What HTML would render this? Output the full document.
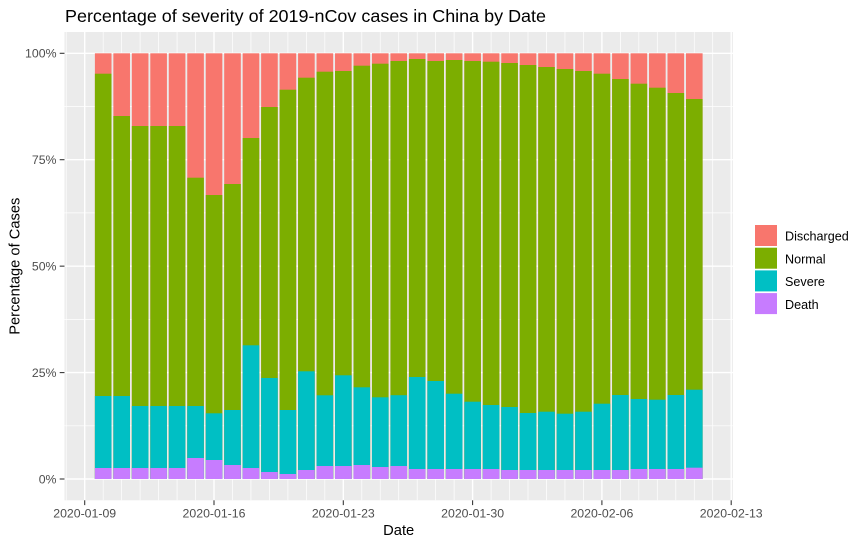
<!DOCTYPE html>
<html><head><meta charset="utf-8"><style>
html,body{margin:0;padding:0;background:#fff;}
svg{display:block;font-family:"Liberation Sans",Arial,sans-serif;}
</style></head><body>
<svg width="864" height="545" viewBox="0 0 864 545" xmlns="http://www.w3.org/2000/svg">
<rect x="0" y="0" width="864" height="545" fill="#fff"/>
<rect x="64.5" y="32" width="668.4" height="468.3" fill="#EBEBEB"/>
<g stroke="#fff" stroke-width="0.7">
<line x1="64.5" x2="732.9" y1="425.8" y2="425.8"/><line x1="64.5" x2="732.9" y1="319.4" y2="319.4"/><line x1="64.5" x2="732.9" y1="212.9" y2="212.9"/><line x1="64.5" x2="732.9" y1="106.5" y2="106.5"/>
<line x1="66.23" x2="66.23" y1="32" y2="500.3"/><line x1="103.17" x2="103.17" y1="32" y2="500.3"/><line x1="121.64" x2="121.64" y1="32" y2="500.3"/><line x1="140.11" x2="140.11" y1="32" y2="500.3"/><line x1="158.59" x2="158.59" y1="32" y2="500.3"/><line x1="177.06" x2="177.06" y1="32" y2="500.3"/><line x1="195.53" x2="195.53" y1="32" y2="500.3"/><line x1="232.47" x2="232.47" y1="32" y2="500.3"/><line x1="250.94" x2="250.94" y1="32" y2="500.3"/><line x1="269.41" x2="269.41" y1="32" y2="500.3"/><line x1="287.89" x2="287.89" y1="32" y2="500.3"/><line x1="306.36" x2="306.36" y1="32" y2="500.3"/><line x1="324.83" x2="324.83" y1="32" y2="500.3"/><line x1="361.77" x2="361.77" y1="32" y2="500.3"/><line x1="380.24" x2="380.24" y1="32" y2="500.3"/><line x1="398.71" x2="398.71" y1="32" y2="500.3"/><line x1="417.19" x2="417.19" y1="32" y2="500.3"/><line x1="435.66" x2="435.66" y1="32" y2="500.3"/><line x1="454.13" x2="454.13" y1="32" y2="500.3"/><line x1="491.07" x2="491.07" y1="32" y2="500.3"/><line x1="509.54" x2="509.54" y1="32" y2="500.3"/><line x1="528.01" x2="528.01" y1="32" y2="500.3"/><line x1="546.49" x2="546.49" y1="32" y2="500.3"/><line x1="564.96" x2="564.96" y1="32" y2="500.3"/><line x1="583.43" x2="583.43" y1="32" y2="500.3"/><line x1="620.37" x2="620.37" y1="32" y2="500.3"/><line x1="638.84" x2="638.84" y1="32" y2="500.3"/><line x1="657.31" x2="657.31" y1="32" y2="500.3"/><line x1="675.79" x2="675.79" y1="32" y2="500.3"/><line x1="694.26" x2="694.26" y1="32" y2="500.3"/><line x1="712.73" x2="712.73" y1="32" y2="500.3"/>
</g>
<g stroke="#fff" stroke-width="1.4">
<line x1="64.5" x2="732.9" y1="479" y2="479"/><line x1="64.5" x2="732.9" y1="372.6" y2="372.6"/><line x1="64.5" x2="732.9" y1="266.15" y2="266.15"/><line x1="64.5" x2="732.9" y1="159.7" y2="159.7"/><line x1="64.5" x2="732.9" y1="53.3" y2="53.3"/>
<line x1="84.7" x2="84.7" y1="32" y2="500.3"/><line x1="214" x2="214" y1="32" y2="500.3"/><line x1="343.3" x2="343.3" y1="32" y2="500.3"/><line x1="472.6" x2="472.6" y1="32" y2="500.3"/><line x1="601.9" x2="601.9" y1="32" y2="500.3"/><line x1="731.2" x2="731.2" y1="32" y2="500.3"/>
</g>
<g>
<g transform="translate(94.89,0)"><rect y="53.3" width="16.62" height="425.7" fill="#F8766D"/><rect y="73.7" width="16.62" height="405.3" fill="#7CAE00"/><rect y="396" width="16.62" height="83" fill="#00BFC4"/><rect y="468" width="16.62" height="11" fill="#C77CFF"/></g>
<g transform="translate(113.36,0)"><rect y="53.3" width="16.62" height="425.7" fill="#F8766D"/><rect y="116" width="16.62" height="363" fill="#7CAE00"/><rect y="396" width="16.62" height="83" fill="#00BFC4"/><rect y="468" width="16.62" height="11" fill="#C77CFF"/></g>
<g transform="translate(131.83,0)"><rect y="53.3" width="16.62" height="425.7" fill="#F8766D"/><rect y="126" width="16.62" height="353" fill="#7CAE00"/><rect y="406" width="16.62" height="73" fill="#00BFC4"/><rect y="468" width="16.62" height="11" fill="#C77CFF"/></g>
<g transform="translate(150.30,0)"><rect y="53.3" width="16.62" height="425.7" fill="#F8766D"/><rect y="126" width="16.62" height="353" fill="#7CAE00"/><rect y="406" width="16.62" height="73" fill="#00BFC4"/><rect y="468" width="16.62" height="11" fill="#C77CFF"/></g>
<g transform="translate(168.78,0)"><rect y="53.3" width="16.62" height="425.7" fill="#F8766D"/><rect y="126" width="16.62" height="353" fill="#7CAE00"/><rect y="406" width="16.62" height="73" fill="#00BFC4"/><rect y="468" width="16.62" height="11" fill="#C77CFF"/></g>
<g transform="translate(187.25,0)"><rect y="53.3" width="16.62" height="425.7" fill="#F8766D"/><rect y="177.7" width="16.62" height="301.3" fill="#7CAE00"/><rect y="406" width="16.62" height="73" fill="#00BFC4"/><rect y="458" width="16.62" height="21" fill="#C77CFF"/></g>
<g transform="translate(205.72,0)"><rect y="53.3" width="16.62" height="425.7" fill="#F8766D"/><rect y="195" width="16.62" height="284" fill="#7CAE00"/><rect y="413.3" width="16.62" height="65.7" fill="#00BFC4"/><rect y="460" width="16.62" height="19" fill="#C77CFF"/></g>
<g transform="translate(224.19,0)"><rect y="53.3" width="16.62" height="425.7" fill="#F8766D"/><rect y="184" width="16.62" height="295" fill="#7CAE00"/><rect y="410" width="16.62" height="69" fill="#00BFC4"/><rect y="465" width="16.62" height="14" fill="#C77CFF"/></g>
<g transform="translate(242.66,0)"><rect y="53.3" width="16.62" height="425.7" fill="#F8766D"/><rect y="138" width="16.62" height="341" fill="#7CAE00"/><rect y="345.3" width="16.62" height="133.7" fill="#00BFC4"/><rect y="468" width="16.62" height="11" fill="#C77CFF"/></g>
<g transform="translate(261.13,0)"><rect y="53.3" width="16.62" height="425.7" fill="#F8766D"/><rect y="107" width="16.62" height="372" fill="#7CAE00"/><rect y="378" width="16.62" height="101" fill="#00BFC4"/><rect y="472" width="16.62" height="7" fill="#C77CFF"/></g>
<g transform="translate(279.60,0)"><rect y="53.3" width="16.62" height="425.7" fill="#F8766D"/><rect y="89.7" width="16.62" height="389.3" fill="#7CAE00"/><rect y="410" width="16.62" height="69" fill="#00BFC4"/><rect y="474" width="16.62" height="5" fill="#C77CFF"/></g>
<g transform="translate(298.08,0)"><rect y="53.3" width="16.62" height="425.7" fill="#F8766D"/><rect y="77.7" width="16.62" height="401.3" fill="#7CAE00"/><rect y="371.3" width="16.62" height="107.7" fill="#00BFC4"/><rect y="470" width="16.62" height="9" fill="#C77CFF"/></g>
<g transform="translate(316.55,0)"><rect y="53.3" width="16.62" height="425.7" fill="#F8766D"/><rect y="71.7" width="16.62" height="407.3" fill="#7CAE00"/><rect y="395.3" width="16.62" height="83.7" fill="#00BFC4"/><rect y="466" width="16.62" height="13" fill="#C77CFF"/></g>
<g transform="translate(335.02,0)"><rect y="53.3" width="16.62" height="425.7" fill="#F8766D"/><rect y="71" width="16.62" height="408" fill="#7CAE00"/><rect y="375.3" width="16.62" height="103.7" fill="#00BFC4"/><rect y="466" width="16.62" height="13" fill="#C77CFF"/></g>
<g transform="translate(353.49,0)"><rect y="53.3" width="16.62" height="425.7" fill="#F8766D"/><rect y="65.7" width="16.62" height="413.3" fill="#7CAE00"/><rect y="387.3" width="16.62" height="91.7" fill="#00BFC4"/><rect y="465" width="16.62" height="14" fill="#C77CFF"/></g>
<g transform="translate(371.96,0)"><rect y="53.3" width="16.62" height="425.7" fill="#F8766D"/><rect y="63.7" width="16.62" height="415.3" fill="#7CAE00"/><rect y="397.3" width="16.62" height="81.7" fill="#00BFC4"/><rect y="467" width="16.62" height="12" fill="#C77CFF"/></g>
<g transform="translate(390.43,0)"><rect y="53.3" width="16.62" height="425.7" fill="#F8766D"/><rect y="61" width="16.62" height="418" fill="#7CAE00"/><rect y="395.2" width="16.62" height="83.8" fill="#00BFC4"/><rect y="466" width="16.62" height="13" fill="#C77CFF"/></g>
<g transform="translate(408.90,0)"><rect y="53.3" width="16.62" height="425.7" fill="#F8766D"/><rect y="59" width="16.62" height="420" fill="#7CAE00"/><rect y="377" width="16.62" height="102" fill="#00BFC4"/><rect y="469" width="16.62" height="10" fill="#C77CFF"/></g>
<g transform="translate(427.38,0)"><rect y="53.3" width="16.62" height="425.7" fill="#F8766D"/><rect y="61" width="16.62" height="418" fill="#7CAE00"/><rect y="381" width="16.62" height="98" fill="#00BFC4"/><rect y="469" width="16.62" height="10" fill="#C77CFF"/></g>
<g transform="translate(445.85,0)"><rect y="53.3" width="16.62" height="425.7" fill="#F8766D"/><rect y="60" width="16.62" height="419" fill="#7CAE00"/><rect y="393.7" width="16.62" height="85.3" fill="#00BFC4"/><rect y="469" width="16.62" height="10" fill="#C77CFF"/></g>
<g transform="translate(464.32,0)"><rect y="53.3" width="16.62" height="425.7" fill="#F8766D"/><rect y="61" width="16.62" height="418" fill="#7CAE00"/><rect y="401.7" width="16.62" height="77.3" fill="#00BFC4"/><rect y="469" width="16.62" height="10" fill="#C77CFF"/></g>
<g transform="translate(482.79,0)"><rect y="53.3" width="16.62" height="425.7" fill="#F8766D"/><rect y="61.7" width="16.62" height="417.3" fill="#7CAE00"/><rect y="405" width="16.62" height="74" fill="#00BFC4"/><rect y="469" width="16.62" height="10" fill="#C77CFF"/></g>
<g transform="translate(501.26,0)"><rect y="53.3" width="16.62" height="425.7" fill="#F8766D"/><rect y="63" width="16.62" height="416" fill="#7CAE00"/><rect y="407" width="16.62" height="72" fill="#00BFC4"/><rect y="470" width="16.62" height="9" fill="#C77CFF"/></g>
<g transform="translate(519.73,0)"><rect y="53.3" width="16.62" height="425.7" fill="#F8766D"/><rect y="65" width="16.62" height="414" fill="#7CAE00"/><rect y="413" width="16.62" height="66" fill="#00BFC4"/><rect y="470" width="16.62" height="9" fill="#C77CFF"/></g>
<g transform="translate(538.20,0)"><rect y="53.3" width="16.62" height="425.7" fill="#F8766D"/><rect y="67" width="16.62" height="412" fill="#7CAE00"/><rect y="411.7" width="16.62" height="67.3" fill="#00BFC4"/><rect y="470" width="16.62" height="9" fill="#C77CFF"/></g>
<g transform="translate(556.68,0)"><rect y="53.3" width="16.62" height="425.7" fill="#F8766D"/><rect y="69" width="16.62" height="410" fill="#7CAE00"/><rect y="413.7" width="16.62" height="65.3" fill="#00BFC4"/><rect y="470" width="16.62" height="9" fill="#C77CFF"/></g>
<g transform="translate(575.15,0)"><rect y="53.3" width="16.62" height="425.7" fill="#F8766D"/><rect y="71" width="16.62" height="408" fill="#7CAE00"/><rect y="411.7" width="16.62" height="67.3" fill="#00BFC4"/><rect y="470" width="16.62" height="9" fill="#C77CFF"/></g>
<g transform="translate(593.62,0)"><rect y="53.3" width="16.62" height="425.7" fill="#F8766D"/><rect y="73.7" width="16.62" height="405.3" fill="#7CAE00"/><rect y="403.7" width="16.62" height="75.3" fill="#00BFC4"/><rect y="470" width="16.62" height="9" fill="#C77CFF"/></g>
<g transform="translate(612.09,0)"><rect y="53.3" width="16.62" height="425.7" fill="#F8766D"/><rect y="79" width="16.62" height="400" fill="#7CAE00"/><rect y="395" width="16.62" height="84" fill="#00BFC4"/><rect y="470" width="16.62" height="9" fill="#C77CFF"/></g>
<g transform="translate(630.56,0)"><rect y="53.3" width="16.62" height="425.7" fill="#F8766D"/><rect y="83.7" width="16.62" height="395.3" fill="#7CAE00"/><rect y="399" width="16.62" height="80" fill="#00BFC4"/><rect y="469" width="16.62" height="10" fill="#C77CFF"/></g>
<g transform="translate(649.03,0)"><rect y="53.3" width="16.62" height="425.7" fill="#F8766D"/><rect y="87.7" width="16.62" height="391.3" fill="#7CAE00"/><rect y="399.7" width="16.62" height="79.3" fill="#00BFC4"/><rect y="469" width="16.62" height="10" fill="#C77CFF"/></g>
<g transform="translate(667.50,0)"><rect y="53.3" width="16.62" height="425.7" fill="#F8766D"/><rect y="93" width="16.62" height="386" fill="#7CAE00"/><rect y="395" width="16.62" height="84" fill="#00BFC4"/><rect y="469" width="16.62" height="10" fill="#C77CFF"/></g>
<g transform="translate(685.98,0)"><rect y="53.3" width="16.62" height="425.7" fill="#F8766D"/><rect y="99" width="16.62" height="380" fill="#7CAE00"/><rect y="389.7" width="16.62" height="89.3" fill="#00BFC4"/><rect y="467.7" width="16.62" height="11.3" fill="#C77CFF"/></g>
</g>
<g stroke="#333" stroke-width="1.07">
<line x1="59.7" x2="64.5" y1="479" y2="479"/><line x1="59.7" x2="64.5" y1="372.6" y2="372.6"/><line x1="59.7" x2="64.5" y1="266.15" y2="266.15"/><line x1="59.7" x2="64.5" y1="159.7" y2="159.7"/><line x1="59.7" x2="64.5" y1="53.3" y2="53.3"/>
<line x1="84.7" x2="84.7" y1="500.3" y2="505.1"/><line x1="214" x2="214" y1="500.3" y2="505.1"/><line x1="343.3" x2="343.3" y1="500.3" y2="505.1"/><line x1="472.6" x2="472.6" y1="500.3" y2="505.1"/><line x1="601.9" x2="601.9" y1="500.3" y2="505.1"/><line x1="731.2" x2="731.2" y1="500.3" y2="505.1"/>
</g>
<g fill="#4D4D4D" font-size="12.3" text-anchor="end">
<text x="56.5" y="483.3">0%</text><text x="56.5" y="376.9">25%</text><text x="56.5" y="270.5">50%</text><text x="56.5" y="164">75%</text><text x="56.5" y="57.6">100%</text>
</g>
<g fill="#4D4D4D" font-size="12.3" text-anchor="middle">
<text x="84.7" y="517.3">2020-01-09</text><text x="214" y="517.3">2020-01-16</text><text x="343.3" y="517.3">2020-01-23</text><text x="472.6" y="517.3">2020-01-30</text><text x="601.9" y="517.3">2020-02-06</text><text x="731.2" y="517.3">2020-02-13</text>
</g>
<text x="398.7" y="535" font-size="14.7" text-anchor="middle" fill="#000">Date</text>
<text transform="translate(19.5,266.2) rotate(-90)" font-size="14.7" text-anchor="middle" fill="#000">Percentage of Cases</text>
<text x="65" y="22" font-size="17.6" fill="#000" textLength="481" lengthAdjust="spacingAndGlyphs">Percentage of severity of 2019-nCov cases in China by Date</text>
<rect x="755" y="225" width="22" height="21" fill="#F8766D"/>
<rect x="755" y="247.7" width="22" height="21" fill="#7CAE00"/>
<rect x="755" y="270.4" width="22" height="21" fill="#00BFC4"/>
<rect x="755" y="293.1" width="22" height="21" fill="#C77CFF"/>
<g font-size="12.6" fill="#000">
<text x="785" y="240.7">Discharged</text>
<text x="785" y="263.4">Normal</text>
<text x="785" y="286.1">Severe</text>
<text x="785" y="308.8">Death</text>
</g>
</svg>
</body></html>
